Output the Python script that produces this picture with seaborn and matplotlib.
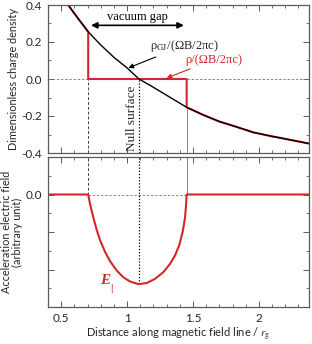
import numpy as np
import seaborn as sns
import matplotlib.pyplot as plt
from matplotlib.ticker import MultipleLocator

# ---------- data ----------
gap_start = 0.705
gap_end = 1.452
null_x = 1.09

# Goldreich-Julian density (black curve)
gj_x = [0.45, 0.553, 0.62, 0.705, 0.80, 0.90, 1.00, 1.09, 1.20, 1.30,
        1.452, 1.58, 1.70, 1.80, 1.96, 2.10, 2.21, 2.38]
gj_y = [0.50, 0.40, 0.335, 0.255, 0.184, 0.117, 0.06, 0.0, -0.045, -0.088,
        -0.153, -0.195, -0.23, -0.252, -0.289, -0.31, -0.325, -0.349]

# acceleration field E_par (red, bottom panel)
e_x = [0.40, 0.705, 0.720, 0.745, 0.770, 0.795, 0.833, 0.871, 0.922, 0.972,
       1.023, 1.086, 1.149, 1.212, 1.275, 1.326, 1.364, 1.396, 1.422, 1.439,
       1.447, 1.452, 2.38]
e_y = [0.0, 0.0, -0.27, -0.63, -0.95, -1.22, -1.53, -1.78, -2.03, -2.21,
       -2.32, -2.39, -2.36, -2.25, -2.07, -1.85, -1.62, -1.35, -0.99, -0.63,
       -0.30, 0.0, 0.0]

# actual charge density: GJ outside the gap, zero inside
gj_end = gj_y[gj_x.index(gap_end)]
rho_x = [x for x in gj_x if x <= gap_start] + [gap_start, gap_end, gap_end] + \
        [x for x in gj_x if x > gap_end]
rho_y = [y for x, y in zip(gj_x, gj_y) if x <= gap_start] + [0.0, 0.0, gj_end] + \
        [y for x, y in zip(gj_x, gj_y) if x > gap_end]
e_min = min(e_y)

RED = "#d7262b"
GREY = "#5a5a5a"
XLIM = (0.40, 2.38)

sns.set_theme(style="ticks")
plt.rcParams["font.family"] = ["Lato", "DejaVu Sans"]
plt.rcParams["mathtext.fontset"] = "stix"
SERIF = ["Liberation Serif", "DejaVu Serif"]

fig = plt.figure(figsize=(3.12, 3.44), dpi=100)
ax1 = fig.add_axes([48 / 312, 1 - 153 / 344, 261 / 312, 148 / 344])
ax2 = fig.add_axes([48 / 312, 1 - 307 / 344, 261 / 312, 150 / 344])

# ---------- top panel ----------
ax1.plot([XLIM[0], gap_start], [0, 0], ls=(0, (3, 2)), lw=0.6, color="#777777")
ax1.plot([gap_end, XLIM[1]], [0, 0], ls=(0, (3, 2)), lw=0.6, color="#777777")
ax1.plot([gap_start, gap_start], [-0.4, 0], ls=(0, (3, 2)), lw=0.7, color="#444444")
ax1.plot([gap_end, gap_end], [-0.4, gj_end], lw=0.7, color="#888888")
ax1.plot([null_x, null_x], [-0.4, 0], ls=(0, (1, 1.5)), lw=0.9, color="black")
sns.lineplot(x=rho_x, y=rho_y, ax=ax1, sort=False, estimator=None,
             color=RED, lw=1.5)
sns.lineplot(x=gj_x, y=gj_y, ax=ax1, sort=False, estimator=None,
             color="black", lw=1.0)

ax1.annotate("", xy=(gap_start, 0.29), xytext=(gap_end, 0.29),
             arrowprops=dict(arrowstyle="<|-|>", color="black", lw=1.2,
                             mutation_scale=9))
ax1.text(1.08, 0.335, "vacuum gap", family=SERIF, fontsize=9,
         ha="center", va="center", color="black")
ax1.annotate("ρ$_{\\rm GJ}$/(ΩB/2πc)", xy=(1.01, 0.06),
             xytext=(1.17, 0.18), fontsize=9, family=SERIF,
             ha="left", va="center",
             arrowprops=dict(arrowstyle="-|>", color="black", lw=0.8,
                             mutation_scale=7, shrinkA=0, shrinkB=0))
ax1.annotate("ρ/(ΩB/2πc)", xy=(1.30, 0.005),
             xytext=(1.44, 0.105), fontsize=9, family=SERIF,
             ha="left", va="center", color=RED,
             arrowprops=dict(arrowstyle="-|>", color=RED, lw=0.8,
                             mutation_scale=7, shrinkA=0, shrinkB=0))
ax1.text(1.04, -0.21, "Null surface", family=SERIF, fontsize=9.5,
         rotation=90, ha="center", va="center")

ax1.set_xlim(*XLIM)
ax1.set_ylim(-0.4, 0.4)
ax1.set_yticks([-0.4, -0.2, 0.0, 0.2, 0.4])
ax1.set_yticklabels(["-0.4", "-0.2", "0.0", "0.2", "0.4"])
ax1.yaxis.set_minor_locator(MultipleLocator(0.1))
ax1.tick_params(labelbottom=False)
ax1.set_ylabel("Dimensionless charge density", fontsize=7.8, labelpad=2)

# ---------- bottom panel ----------
ax2.plot([gap_start, gap_end], [0, 0], ls=(0, (3, 2)), lw=0.6, color="#777777")
ax2.plot([gap_start, gap_start], [0, 1], ls=(0, (3, 2)), lw=0.7, color="#444444")
ax2.plot([gap_end, gap_end], [0, 1], lw=0.7, color="#888888")
ax2.plot([null_x, null_x], [e_min, 1], ls=(0, (1, 1.5)), lw=0.9, color="black")
sns.lineplot(x=e_x, y=e_y, ax=ax2, sort=False, estimator=None, color=RED, lw=1.5)
ax2.text(0.835, -2.30, "E", family=SERIF, fontsize=11, fontweight="bold",
         fontstyle="italic", color=RED, ha="center", va="center")
ax2.text(0.878, -2.50, "|", family=SERIF, fontsize=8, fontweight="bold",
         color=RED, ha="center", va="center")

ax2.set_xlim(*XLIM)
ax2.set_ylim(-3, 1)
ax2.set_yticks([-3, -2, -1, 0, 1])
ax2.set_yticklabels(["", "", "", "0.0", ""])
ax2.yaxis.set_minor_locator(MultipleLocator(0.5))
ax2.set_ylabel("Acceleration electric field\n(arbitrary unit)", fontsize=7.8,
               labelpad=2, linespacing=1.05)
ax2.set_xlabel(r"Distance along magnetic field line / $r_{\rm g}$", fontsize=8,
               labelpad=2)

for ax in (ax1, ax2):
    ax.xaxis.set_major_locator(MultipleLocator(0.5))
    ax.xaxis.set_minor_locator(MultipleLocator(0.1))
    ax.tick_params(which="both", direction="in", top=True, right=True,
                   color=GREY, labelsize=8.5, pad=4)
    ax.tick_params(which="major", length=4, width=0.7)
    ax.tick_params(which="minor", length=2, width=0.6)
    for s in ax.spines.values():
        s.set_color(GREY)
        s.set_linewidth(0.9)
ax2.set_xticks([0.5, 1, 1.5, 2])
ax2.set_xticklabels(["0.5", "1", "1.5", "2"])

fig.savefig("out.png", dpi=100)
